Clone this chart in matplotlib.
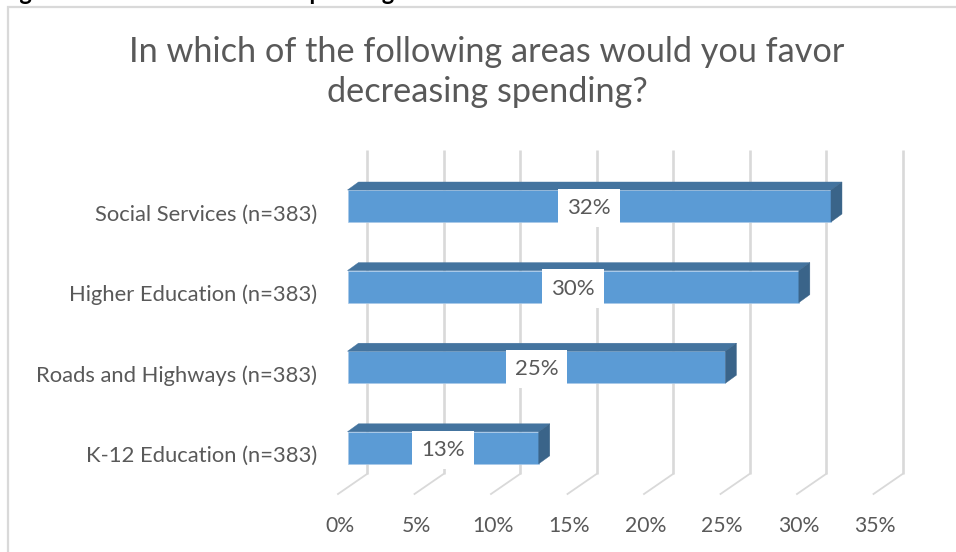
import matplotlib
matplotlib.use("Agg")
import matplotlib.pyplot as plt
from matplotlib.patches import Polygon, Rectangle
from matplotlib.transforms import ScaledTranslation

plt.rcParams['font.family'] = ['Lato', 'DejaVu Sans']

# data
categories = ["Social Services (n=383)", "Higher Education (n=383)",
              "Roads and Highways (n=383)", "K-12 Education (n=383)"]
values = [31.6, 29.5, 24.7, 12.5]
value_labels = ["32%", "30%", "25%", "13%"]
xticks = [0, 5, 10, 15, 20, 25, 30, 35]
xtick_labels = ["0%", "5%", "10%", "15%", "20%", "25%", "30%", "35%"]

title = "In which of the following areas would you favor\ndecreasing spending?"
# only the descenders of this line survive the crop at the top of the picture
heading = "Figure 5: Areas to Decrease Spending"

# colors
front = "#5b9bd5"
top = "#44749f"
side = "#3a6489"
edge = "#a9c9e8"
grid = "#d9d9d9"
text_col = "#595959"

W, H = 956, 552
fig = plt.figure(figsize=(W / 100, H / 100), dpi=100)

# axes placed in pixels: 0% at x=347.5, 15.3 px per percent
px_x, px_y = 15.3, 80.6
ax = fig.add_axes([347.5 / W, (H - 494) / H, 535.5 / W, 344 / H])
ax.set_xlim(0, 35)
ax.set_ylim((494 - 206) / px_y, (150 - 206) / px_y)
ax.patch.set_visible(False)
for s in ax.spines.values():
    s.set_visible(False)

# gridlines on the back wall, with the floor diagonals
back_x = 19.5 / px_x
floor_x = -9.5 / px_x
back_bottom = (474 - 206) / px_y
for t in xticks:
    ax.plot([t + back_x, t + back_x], [ax.get_ylim()[1], back_bottom], color=grid, lw=1.9,
            clip_on=False, zorder=1, solid_capstyle='butt')
    ax.plot([t + back_x, t + floor_x], [back_bottom, ax.get_ylim()[0]], color=grid, lw=1.3,
            clip_on=False, zorder=1)

# 3d bars
depth_x, depth_y = 11 / px_x, 8 / px_y
bar_h = 32 / px_y
ypos = list(range(len(categories)))
ax.barh(ypos, values, height=bar_h, color=front, edgecolor=edge, linewidth=0.5, zorder=3)
for y, v, lab in zip(ypos, values, value_labels):
    y0, y1 = y - bar_h / 2, y + bar_h / 2
    ax.add_patch(Polygon([(0, y0), (depth_x, y0 - depth_y), (v + depth_x, y0 - depth_y), (v, y0)],
                         facecolor=top, edgecolor=top, linewidth=0.3, zorder=3, clip_on=False))
    ax.add_patch(Polygon([(v, y0), (v + depth_x, y0 - depth_y), (v + depth_x, y1 - depth_y), (v, y1)],
                         facecolor=side, edgecolor=side, linewidth=0.3, zorder=3, clip_on=False))
    ax.text(v / 2, y + 2 / px_y, lab, ha='center', va='center', fontsize=16, color=text_col, zorder=5,
            bbox=dict(facecolor='white', edgecolor='none', pad=6.5))

# tick labels sit off the plane of the bars
ax.set_xticks(xticks)
ax.set_xticklabels(xtick_labels, fontsize=15.2, color=text_col)
ax.tick_params(axis='x', length=0, pad=15.5)
ax.set_yticks(ypos)
ax.set_yticklabels(categories, fontsize=15.8, color=text_col)
ax.tick_params(axis='y', length=0, pad=22)
for lab in ax.get_xticklabels():
    lab.set_transform(lab.get_transform() + ScaledTranslation(-8 / 100, 0, fig.dpi_scale_trans))
for lab in ax.get_yticklabels():
    lab.set_transform(lab.get_transform() + ScaledTranslation(0, -6.5 / 100, fig.dpi_scale_trans))

# chart frame and title
fig.add_artist(Rectangle((7.5 / W, -0.01), 1, (H - 7) / H + 0.01, transform=fig.transFigure,
                         facecolor='none', edgecolor=grid, linewidth=1.6, zorder=0))
fig.text(487 / W, (H - 72) / H, title, ha='center', va='center', fontsize=24.7, color=text_col,
         linespacing=1.31)
fig.text(0, (H + 0.5) / H, heading, ha='left', va='baseline', fontsize=17, fontweight='bold', color='black')

fig.savefig("out.png", dpi=100)
